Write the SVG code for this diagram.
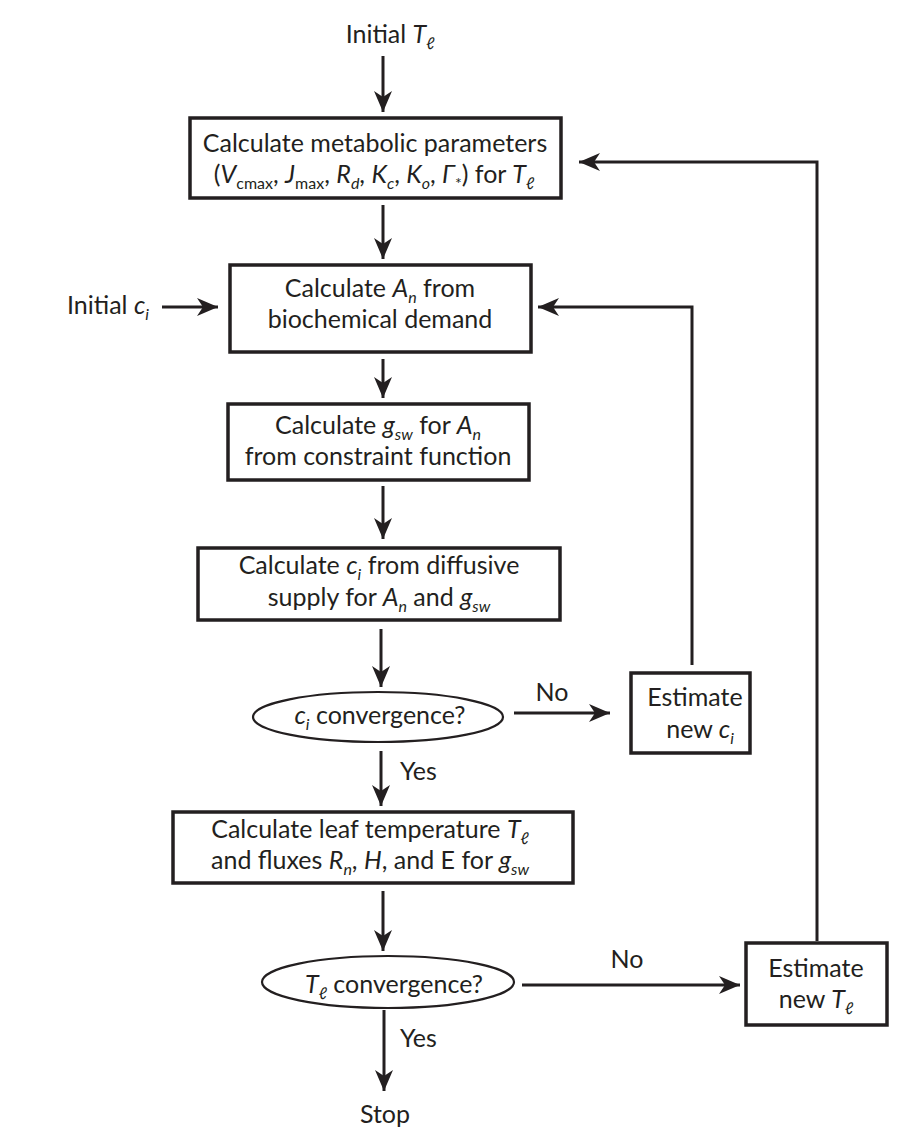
<svg xmlns="http://www.w3.org/2000/svg" width="913" height="1148" viewBox="0 0 913 1148">
<style>
.t{font-family:Lato,"Liberation Sans",sans-serif;font-size:25px;fill:#231f20;text-anchor:middle}
.l{text-anchor:start}
.i{font-style:italic}
.s{font-size:16px}
.box{fill:#fff;stroke:#231f20;stroke-width:3.5}
.ell{fill:#fff;stroke:#231f20;stroke-width:2.2}
.c{stroke:#231f20;stroke-width:3;fill:none}
</style>
<defs>
<marker id="ah" markerUnits="userSpaceOnUse" markerWidth="24" markerHeight="20" viewBox="-22 -10 24 20" refX="0" refY="0" orient="auto">
<path d="M0,0 L-21,-9 L-15,0 L-21,9 Z" fill="#231f20"/>
</marker>
</defs>
<rect width="913" height="1148" fill="#fff"/>
<g id="connectors">
<line class="c" x1="383" y1="56" x2="383" y2="112" marker-end="url(#ah)"/>
<line class="c" x1="383" y1="205" x2="383" y2="259" marker-end="url(#ah)"/>
<line class="c" x1="162" y1="307" x2="218" y2="307" marker-end="url(#ah)"/>
<line class="c" x1="383" y1="359" x2="383" y2="398" marker-end="url(#ah)"/>
<line class="c" x1="383" y1="486" x2="383" y2="539" marker-end="url(#ah)"/>
<line class="c" x1="381" y1="629" x2="381" y2="687" marker-end="url(#ah)"/>
<line class="c" x1="514" y1="713" x2="610" y2="713" marker-end="url(#ah)"/>
<polyline class="c" points="692,665 692,307 538,307" marker-end="url(#ah)"/>
<line class="c" x1="381" y1="751" x2="381" y2="806" marker-end="url(#ah)"/>
<line class="c" x1="383" y1="891" x2="383" y2="951" marker-end="url(#ah)"/>
<line class="c" x1="522" y1="985" x2="740" y2="985" marker-end="url(#ah)"/>
<polyline class="c" points="817,941 817,162 579,162" marker-end="url(#ah)"/>
<line class="c" x1="384" y1="1010" x2="384" y2="1091" marker-end="url(#ah)"/>
</g>
<g id="initialT">
<text class="t" x="390" y="43">Initial <tspan class="i">T</tspan><tspan class="s i" dy="6">ℓ</tspan></text>
</g>
<g id="metabolic">
<rect class="box" x="190" y="118" width="371" height="80"/>
<text class="t" x="375" y="152">Calculate metabolic parameters</text>
<text class="t" x="374" y="183">(<tspan class="i">V</tspan><tspan class="s" dy="6">cmax</tspan><tspan dy="-6">, </tspan><tspan class="i">J</tspan><tspan class="s" dy="6">max</tspan><tspan dy="-6">, </tspan><tspan class="i">R</tspan><tspan class="s i" dy="6">d</tspan><tspan dy="-6">, </tspan><tspan class="i">K</tspan><tspan class="s i" dy="6">c</tspan><tspan dy="-6">, </tspan><tspan class="i">K</tspan><tspan class="s i" dy="6">o</tspan><tspan dy="-6">, </tspan><tspan class="i">Γ</tspan><tspan class="s" dy="6">*</tspan><tspan dy="-6">) for </tspan><tspan class="i">T</tspan><tspan class="s i" dy="6">ℓ</tspan></text>
</g>
<g id="initialC">
<text class="t l" x="67" y="314">Initial <tspan class="i">c</tspan><tspan class="s i" dy="6">i</tspan></text>
</g>
<g id="demand">
<rect class="box" x="230" y="265" width="301" height="87"/>
<text class="t" x="380" y="297">Calculate <tspan class="i">A</tspan><tspan class="s i" dy="6">n</tspan><tspan dy="-6"> from</tspan></text>
<text class="t" x="380" y="328">biochemical demand</text>
</g>
<g id="constraint">
<rect class="box" x="228" y="404" width="301" height="76"/>
<text class="t" x="378" y="434">Calculate <tspan class="i">g</tspan><tspan class="s i" dy="6">sw</tspan><tspan dy="-6"> for </tspan><tspan class="i">A</tspan><tspan class="s i" dy="6">n</tspan></text>
<text class="t" x="378" y="465">from constraint function</text>
</g>
<g id="supply">
<rect class="box" x="198" y="548" width="362" height="72"/>
<text class="t" x="379" y="574">Calculate <tspan class="i">c</tspan><tspan class="s i" dy="6">i</tspan><tspan dy="-6"> from diffusive</tspan></text>
<text class="t" x="379" y="606">supply for <tspan class="i">A</tspan><tspan class="s i" dy="6">n</tspan><tspan dy="-6"> and </tspan><tspan class="i">g</tspan><tspan class="s i" dy="6">sw</tspan></text>
</g>
<g id="ciConv">
<ellipse class="ell" cx="378" cy="717" rx="125" ry="25"/>
<text class="t" x="380" y="724"><tspan class="i">c</tspan><tspan class="s i" dy="6">i</tspan><tspan dy="-6"> convergence?</tspan></text>
</g>
<text class="t" x="552" y="701">No</text>
<text class="t l" x="400" y="780">Yes</text>
<g id="newC">
<rect class="box" x="631" y="673" width="119" height="80"/>
<text class="t" x="695" y="706">Estimate</text>
<text class="t" x="700" y="738">new <tspan class="i">c</tspan><tspan class="s i" dy="6">i</tspan></text>
</g>
<g id="leafTemp">
<rect class="box" x="173" y="812" width="400" height="71"/>
<text class="t" x="370" y="838">Calculate leaf temperature <tspan class="i">T</tspan><tspan class="s i" dy="6">ℓ</tspan></text>
<text class="t" x="370" y="869">and fluxes <tspan class="i">R</tspan><tspan class="s i" dy="6">n</tspan><tspan dy="-6">, </tspan><tspan class="i">H</tspan><tspan dy="0">, and E for </tspan><tspan class="i">g</tspan><tspan class="s i" dy="6">sw</tspan></text>
</g>
<g id="tConv">
<ellipse class="ell" cx="388" cy="982" rx="126" ry="26"/>
<text class="t" x="394" y="993"><tspan class="i">T</tspan><tspan class="s i" dy="6">ℓ</tspan><tspan dy="-6"> convergence?</tspan></text>
</g>
<text class="t" x="627" y="968">No</text>
<text class="t l" x="400" y="1047">Yes</text>
<g id="newT">
<rect class="box" x="746" y="943" width="141" height="82"/>
<text class="t" x="816" y="977">Estimate</text>
<text class="t" x="816" y="1008">new <tspan class="i">T</tspan><tspan class="s i" dy="6">ℓ</tspan></text>
</g>
<g id="stop">
<text class="t" x="385" y="1123">Stop</text>
</g>
</svg>
